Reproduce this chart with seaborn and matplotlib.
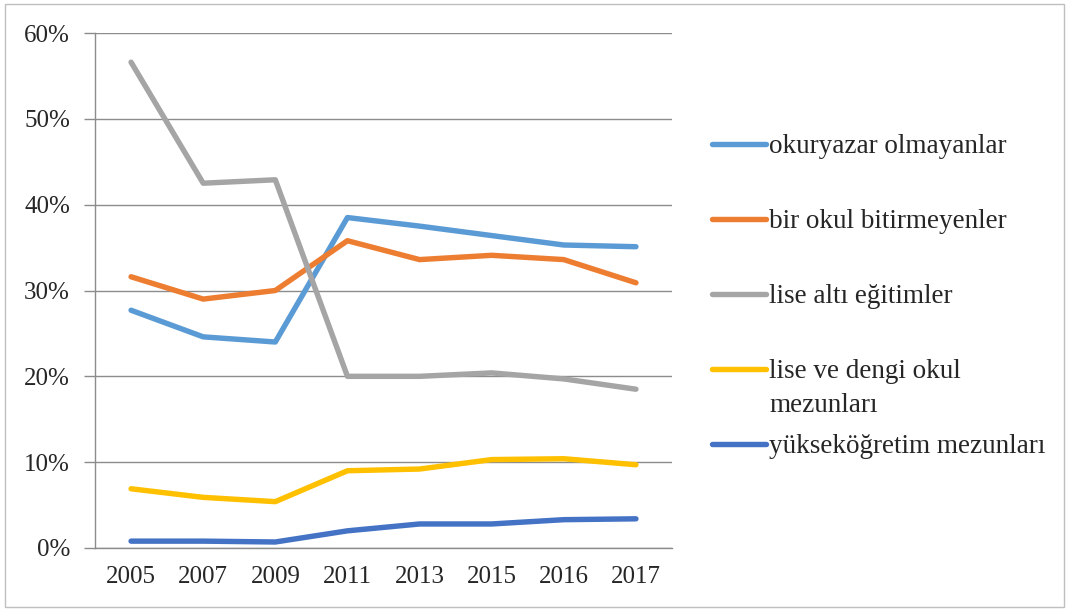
import numpy as np
import pandas as pd
import seaborn as sns
import matplotlib.pyplot as plt
from matplotlib.patches import Rectangle
from matplotlib.ticker import PercentFormatter

# data (percent)
years = ["2005", "2007", "2009", "2011", "2013", "2015", "2016", "2017"]
okuryazar = [27.7, 24.6, 24.0, 38.5, 37.5, 36.4, 35.3, 35.1]
bir_okul = [31.6, 29.0, 30.0, 35.8, 33.6, 34.1, 33.6, 30.9]
lise_alti = [56.6, 42.5, 42.9, 20.0, 20.0, 20.4, 19.7, 18.5]
lise_dengi = [6.9, 5.9, 5.4, 9.0, 9.2, 10.3, 10.4, 9.7]
yuksek = [0.8, 0.8, 0.7, 2.0, 2.8, 2.8, 3.3, 3.4]

labels = ["okuryazar olmayanlar", "bir okul bitirmeyenler", "lise altı eğitimler",
          "lise ve dengi okul", "yükseköğretim mezunları"]
wrap_line = "mezunları"  # second line of the 4th legend label
series = [okuryazar, bir_okul, lise_alti, lise_dengi, yuksek]
colors = ["#5B9BD5", "#ED7D31", "#A5A5A5", "#FFC000", "#4472C4"]

df = pd.DataFrame({
    "yil": years * len(series),
    "oran": [v for s in series for v in s],
    "grup": [lab for lab in labels for _ in years],
})

sns.set_style("white")
plt.rcParams["font.family"] = ["Liberation Serif", "DejaVu Serif"]

fig = plt.figure(figsize=(10.69, 6.11), dpi=100)
ax = fig.add_axes([95 / 1069, 1 - 548 / 611, (672 - 95) / 1069, (548 - 33) / 611])

sns.lineplot(data=df, x="yil", y="oran", hue="grup", hue_order=labels,
             palette=colors, linewidth=3.9, ax=ax, legend=True)

ax.set_xlim(-0.5, len(years) - 0.5)
ax.set_ylim(0, 60)
ax.set_yticks(range(0, 61, 10))
ax.yaxis.set_major_formatter(PercentFormatter(decimals=0))
ax.grid(axis="y", color="#8c8c8c", linewidth=1)
ax.set_axisbelow(True)
ax.set_xlabel("")
ax.set_ylabel("")

ax.set_xticks(np.arange(-0.5, len(years), 1), minor=True)
ax.tick_params(axis="x", which="major", length=0, pad=13, labelsize=18)
ax.tick_params(axis="x", which="minor", length=8, color="#8c8c8c", width=1, direction="out")
ax.tick_params(axis="y", length=8, color="#8c8c8c", width=1, pad=10, labelsize=18, left=True)
for side in ["top", "right"]:
    ax.spines[side].set_visible(False)
for side in ["left", "bottom"]:
    ax.spines[side].set_color("#8c8c8c")
    ax.spines[side].set_linewidth(1)

handles, labs = ax.get_legend_handles_labels()
ax.legend_.remove()
for h in handles:
    h.set_linewidth(3.9)
leg = fig.legend(handles, labs, loc="upper left", bbox_to_anchor=(712 / 1069, 1 - 134 / 611),
                 frameon=False, fontsize=19.5, borderpad=0, borderaxespad=0,
                 handlelength=2.0, handletextpad=0.12, labelspacing=1.85)

# second line of the wrapped legend label, hung under its first line
fig.canvas.draw()
t = leg.get_texts()[3]
bb = t.get_window_extent().transformed(fig.transFigure.inverted())
fig.text(bb.x0, bb.y0 - 9 / 611, wrap_line, fontsize=19.5, ha="left", va="top")

fig.patches.append(Rectangle((5 / 1069, 4 / 611), 1059 / 1069, 603 / 611,
                             transform=fig.transFigure, fill=False,
                             edgecolor="#bfbfbf", linewidth=1))

fig.savefig("out.png", dpi=100)
